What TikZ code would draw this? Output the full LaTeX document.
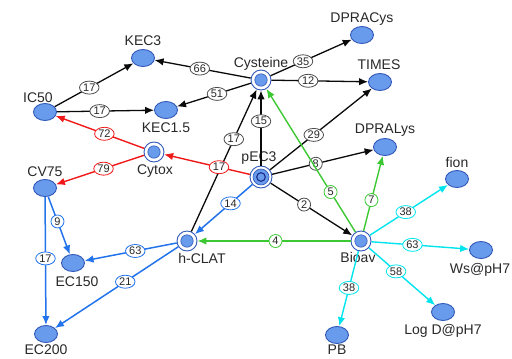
\documentclass[tikz,border=0pt]{standalone}
\usepackage{fontspec}
\setmainfont{Liberation Sans}
\usetikzlibrary{shapes.geometric,arrows.meta}

\definecolor{nodefill}{RGB}{104,155,235}
\definecolor{nodeline}{RGB}{50,88,185}
\definecolor{navyring}{RGB}{30,45,140}
\definecolor{txt}{RGB}{40,40,40}
\definecolor{eblack}{RGB}{10,10,10}
\definecolor{ered}{RGB}{240,25,25}
\definecolor{eblue}{RGB}{35,115,235}
\definecolor{egreen}{RGB}{60,200,50}
\definecolor{ecyan}{RGB}{0,228,238}

\begin{document}
\begin{tikzpicture}[x=1pt,y=-1pt,
  leaf/.style={ellipse, minimum width=23pt, minimum height=17pt, inner sep=0pt,
    fill=nodefill, draw=nodeline, line width=0.9pt},
  hub/.style={circle, minimum size=20pt, inner sep=0pt, fill=white,
    draw=nodeline, line width=0.9pt,
    path picture={\fill[nodefill, draw=nodeline, line width=0.6pt]
      (path picture bounding box.center) circle (6.2pt);}},
  core/.style={circle, minimum size=22pt, inner sep=0pt, fill=white,
    draw=nodeline, line width=0.9pt,
    path picture={\fill[nodefill, draw=nodeline, line width=0.6pt]
      (path picture bounding box.center) circle (8pt);
      \draw[navyring, line width=1.1pt]
      (path picture bounding box.center) circle (4.3pt);}},
  lbl/.style={font=\fontsize{14}{16}\selectfont, text=txt, inner sep=0pt,
    text height=10pt, text depth=2.7pt},
  wt/.style={ellipse, fill=white, inner xsep=0.8pt, inner ysep=0pt,
    minimum height=13pt, minimum width=13pt, line width=0.8pt,
    font=\fontsize{11}{12}\selectfont, text=txt},
  tip/.style={-{Latex[length=9pt,width=7.5pt]}},
  blk/.style={tip, draw=eblack, line width=1.3pt, every node/.style={wt, draw=black!70}},
  rd/.style={tip, draw=ered, line width=1.4pt, every node/.style={wt, draw=ered}},
  bl/.style={tip, draw=eblue, line width=1.5pt, every node/.style={wt, draw=eblue}},
  gr/.style={tip, draw=egreen, line width=1.4pt, every node/.style={wt, draw=egreen}},
  cy/.style={tip, draw=ecyan, line width=1.4pt, every node/.style={wt, draw=ecyan}},
]
\useasboundingbox (0,0) rectangle (512,359);

% vertices
\node[leaf] (KEC3)    at (143,58)  {};
\node[leaf] (IC50)    at (45,112)  {};
\node[leaf] (KEC15)   at (166,110) {};
\node[hub]  (Cys)     at (261,80)  {};
\node[hub]  (Cytox)   at (154,152) {};
\node[core] (pEC3)    at (261,177) {};
\node[leaf] (DPRACys) at (362,35)  {};
\node[leaf] (TIMES)   at (380,82)  {};
\node[leaf] (DPRALys) at (385,147) {};
\node[leaf] (fion)    at (457,179) {};
\node[leaf] (CV75)    at (45,188)  {};
\node[leaf] (EC150)   at (73,263)  {};
\node[leaf] (EC200)   at (46,334)  {};
\node[hub]  (hCLAT)   at (187,241) {};
\node[hub]  (Bioav)   at (361,241) {};
\node[leaf] (Ws)      at (481,250) {};
\node[leaf] (LogD)    at (443,312) {};
\node[leaf] (PB)      at (337,335) {};

% vertex names
\node[lbl] (tKEC3)    at (143,42)  {KEC3};
\node[lbl] (tIC50)    at (38,99)   {IC50};
\node[lbl] (tKEC15)   at (166,129) {KEC1.5};
\node[lbl] (tCys)     at (261,64)  {Cysteine};
\node[lbl] (tCytox)   at (155,171) {Cytox};
\node[lbl] (tpEC3)    at (259,158) {pEC3};
\node[lbl] (tDPRACys) at (362,19)  {DPRACys};
\node[lbl] (tTIMES)   at (379,66)  {TIMES};
\node[lbl] (tDPRALys) at (385,130) {DPRALys};
\node[lbl] (tfion)    at (457,164) {fion};
\node[lbl] (tCV75)    at (45,173)  {CV75};
\node[lbl] (tEC150)   at (77,283)  {EC150};
\node[lbl] (tEC200)   at (46,351)  {EC200};
\node[lbl] (thCLAT)   at (202,260) {h-CLAT};
\node[lbl] (tBioav)   at (358,259) {Bioav};
\node[lbl] (tWs)      at (480,270) {Ws@pH7};
\node[lbl] (tLogD)    at (443,331) {Log D@pH7};
\node[lbl] (tPB)      at (337,351) {PB};

% black links
\draw[blk] (IC50) -- node[pos=.44] {17} (KEC3);
\draw[blk] (IC50) -- node[pos=.44] {17} (KEC15);
\draw[blk] (Cys) -- node[pos=.53] {66} (KEC3);
\draw[blk] (Cys) -- node[pos=.46] {51} (KEC15);
\draw[blk] (Cys) -- node[pos=.40] {35} (DPRACys);
\draw[blk] (Cys) -- node[pos=.38] {12} (TIMES);
\draw[blk] (pEC3) -- node[pos=.59] {15} (Cys);
\draw[blk] (hCLAT) -- node[pos=.65] {17} (Cys);
\draw[blk] (pEC3) -- node[pos=.43] {29} (TIMES);
\draw[blk] (pEC3) -- node[pos=.43] {8} (DPRALys);
\draw[blk] (pEC3) -- node[pos=.41] {2} (Bioav);

% red links
\draw[rd] (Cytox) -- node[pos=.45] {72} (IC50);
\draw[rd] (Cytox) -- node[pos=.46] {79} (CV75);
\draw[rd] (pEC3) -- node[pos=.36] {17} (Cytox);

% blue links
\draw[bl] (CV75) -- node[pos=.43] {9} (EC150);
\draw[bl] (CV75) -- node[pos=.48] {17} (EC200);
\draw[bl] (hCLAT) -- node[pos=.45] {63} (EC150);
\draw[bl] (hCLAT) -- node[pos=.43] {21} (EC200);
\draw[bl] (pEC3) -- node[pos=.38] {14} (hCLAT);

% green links
\draw[gr] (Bioav) -- node[pos=.49] {4} (hCLAT);
\draw[gr] (Bioav) -- node[pos=.28] {5} (Cys);
\draw[gr] (Bioav) -- node[pos=.41] {7} (DPRALys);

% cyan links
\draw[cy] (Bioav) -- node[pos=.46] {38} (fion);
\draw[cy] (Bioav) -- node[pos=.42] {63} (Ws);
\draw[cy] (Bioav) -- node[pos=.41] {58} (LogD);
\draw[cy] (Bioav) -- node[pos=.49] {38} (PB);
\end{tikzpicture}
\end{document}
